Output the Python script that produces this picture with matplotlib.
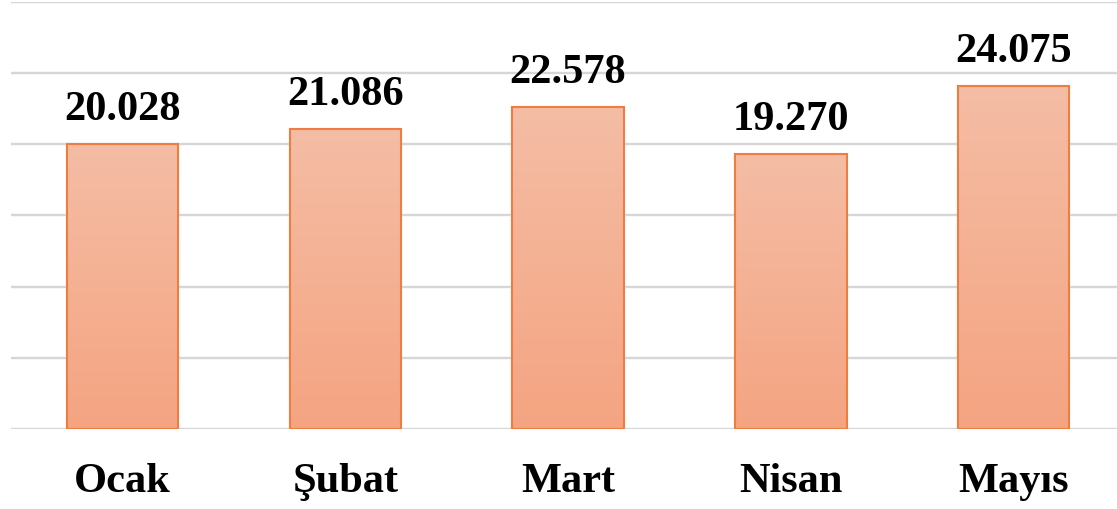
import matplotlib
matplotlib.use("Agg")
import matplotlib.pyplot as plt
import numpy as np
from matplotlib.colors import LinearSegmentedColormap

categories = ["Ocak", "Şubat", "Mart", "Nisan", "Mayıs"]
values = [20028, 21086, 22578, 19270, 24075]
value_labels = ["20.028", "21.086", "22.578", "19.270", "24.075"]

W, H = 1117, 510
fig = plt.figure(figsize=(W / 100, H / 100), dpi=100)
ax = fig.add_axes([11 / W, 80 / H, 1114 / W, 427.5 / H])

x = np.arange(len(categories))
bars = ax.bar(x, values, width=0.5, facecolor="none", edgecolor="#EE7D3F",
              linewidth=1.5, zorder=3)

cmap = LinearSegmentedColormap.from_list("g", ["#F5A481", "#F4BDA5"])
grad = np.linspace(0, 1, 256).reshape(-1, 1)
for b in bars:
    x0, y0 = b.get_x(), b.get_y()
    w, h = b.get_width(), b.get_height()
    im = ax.imshow(grad, cmap=cmap, origin="lower", aspect="auto",
                   extent=[x0, x0 + w, y0, y0 + h], zorder=2)
    im.set_clip_path(b)

for xi, v, lab in zip(x, values, value_labels):
    ax.annotate(lab, (xi, v), xytext=(0, 16), textcoords="offset pixels",
                ha="center", va="bottom", fontsize=30.5, fontweight="bold",
                family="Liberation Serif", color="black")

ax.set_xlim(-0.5, len(categories) - 0.5)
ax.set_ylim(0, 30000)
ax.set_yticks(np.arange(0, 30001, 5000))
ax.yaxis.grid(True, color="#D6D6D6", linewidth=1.7, zorder=0)
ax.set_axisbelow(True)
ax.set_yticklabels([])
ax.tick_params(axis="y", length=0)
ax.tick_params(axis="x", length=0, pad=24)
ax.set_xticks(x)
ax.set_xticklabels(categories, fontsize=30.5, fontweight="bold",
                   family="Liberation Serif")
for s in ax.spines.values():
    s.set_visible(False)

fig.savefig("out.png", dpi=100)
